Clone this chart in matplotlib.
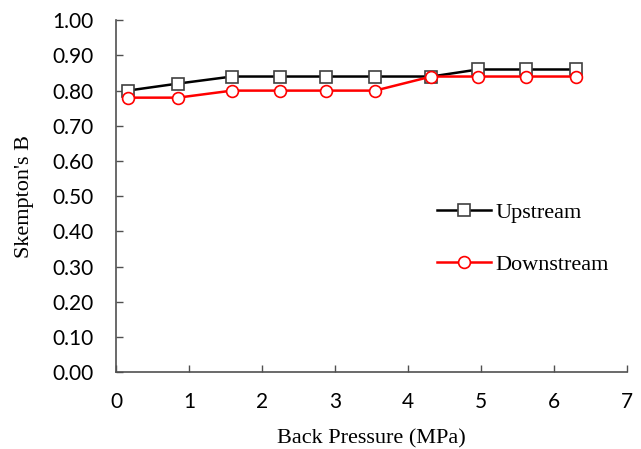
import matplotlib
matplotlib.use("Agg")
import matplotlib.pyplot as plt

# Back pressure steps (MPa) and measured Skempton's B values
pressure = [0.16, 0.85, 1.59, 2.25, 2.88, 3.55, 4.32, 4.96, 5.62, 6.30]
b_upstream = [0.80, 0.82, 0.84, 0.84, 0.84, 0.84, 0.84, 0.86, 0.86, 0.86]
b_downstream = [0.78, 0.78, 0.80, 0.80, 0.80, 0.80, 0.84, 0.84, 0.84, 0.84]

x_ticks = [0, 1, 2, 3, 4, 5, 6, 7]
y_ticks = [0.0, 0.1, 0.2, 0.3, 0.4, 0.5, 0.6, 0.7, 0.8, 0.9, 1.0]

fig = plt.figure(figsize=(6.41, 4.49), dpi=100)
ax = fig.add_axes([0.181, 0.171, 0.797, 0.784])

ax.plot(pressure, b_upstream, color="black", lw=1.8, marker="s", ms=8.5,
        mfc="white", mec="#404040", mew=1.2, label="Upstream")
ax.plot(pressure, b_downstream, color="red", lw=1.8, marker="o", ms=8.5,
        mfc="white", mec="red", mew=1.2, label="Downstream")

ax.set_xlim(0, 7)
ax.set_ylim(0, 1.0)
ax.set_xticks(x_ticks)
ax.set_yticks(y_ticks)
ax.set_xticklabels([str(t) for t in x_ticks], fontsize=15, family="Lato")
ax.set_yticklabels([f"{t:.2f}" for t in y_ticks], fontsize=15, family="Lato")
ax.tick_params(direction="in", length=5, width=1, color="#505050")
ax.tick_params(axis="x", pad=14)
ax.tick_params(axis="y", pad=16)

for side in ("top", "right"):
    ax.spines[side].set_visible(False)
for side in ("left", "bottom"):
    ax.spines[side].set_color("#505050")
    ax.spines[side].set_linewidth(1.2)

ax.set_xlabel("Back Pressure (MPa)", fontsize=16, family="Liberation Serif", labelpad=13)
ax.set_ylabel("Skempton's B", fontsize=16, family="Liberation Serif", labelpad=13)

ax.legend(loc="center left", bbox_to_anchor=(0.59, 0.38), frameon=False,
          prop={"family": "Liberation Serif", "size": 16}, handlelength=2.4,
          labelspacing=1.4, handletextpad=0.2)

fig.savefig("out.png", dpi=100)
